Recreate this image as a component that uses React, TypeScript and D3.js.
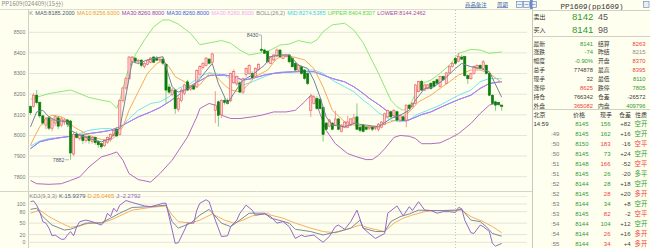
import React from "react";
import * as d3 from "d3";

type P = [number, number];

// ---------- candles (15 min bars) ----------
const opens = [8140,8140,8195,8160,8095,8050,8085,8035,8060,8085,8050,8065,8075,8070,7910,8005,7985,8000,7975,7995,7970,7990,7970,7960,7950,7965,7980,8000,8030,8005,8170,8230,8275,8360,8375,8360,8365,8335,8345,8355,8380,8375,8365,8370,8345,8235,8200,8220,8125,8170,8205,8260,8225,8240,8235,8295,8330,8340,8370,8355,8122,8163,8100,8170,8170,8170,8255,8250,8255,8210,8295,8300,8300,8285,8320,8418,8414,8406,8349,8366,8385,8414,8374,8382,8390,8374,8349,8317,8333,8317,8300,8122,8155,8180,8175,8135,8060,8045,8060,8050,8080,8020,8040,8040,8050,8060,8090,8040,8050,8040,8035,8040,8035,8030,8040,8055,8090,8115,8098,8115,8074,8090,8074,8147,8139,8155,8212,8262,8220,8228,8253,8262,8270,8237,8286,8253,8303,8335,8374,8360,8380,8382,8290,8275,8300,8325,8340,8325,8340,8300,8195,8163,8160,8147];
const highs = [8145,8205,8220,8165,8100,8090,8095,8085,8100,8095,8090,8085,8080,8075,8015,8020,8010,8010,8000,8000,7995,7995,7975,7965,7980,7995,8010,8030,8040,8175,8235,8285,8385,8385,8380,8370,8370,8355,8370,8380,8385,8385,8380,8380,8350,8250,8230,8225,8190,8230,8250,8270,8245,8250,8320,8340,8355,8380,8375,8402,8215,8170,8175,8180,8180,8305,8320,8290,8265,8280,8330,8345,8310,8330,8350,8430,8420,8410,8385,8395,8422,8418,8395,8395,8395,8380,8355,8345,8338,8320,8305,8203,8195,8190,8185,8140,8065,8080,8065,8120,8085,8055,8070,8095,8085,8105,8155,8050,8055,8045,8045,8045,8045,8060,8070,8110,8125,8120,8128,8120,8102,8095,8150,8152,8160,8250,8265,8270,8250,8250,8258,8266,8275,8290,8290,8308,8340,8355,8380,8400,8390,8386,8295,8305,8340,8345,8345,8365,8345,8305,8200,8168,8163,8150];
const lows = [8100,8135,8150,8085,8050,8030,8025,8020,8045,8030,8040,8050,8040,7882,7900,7985,7975,7960,7965,7960,7960,7955,7940,7935,7945,7960,7970,7995,7990,8000,8160,8220,8270,8340,8350,8345,8330,8325,8340,8350,8350,8360,8355,8340,8155,8200,8190,8105,8115,8160,8195,8215,8215,8220,8230,8290,8320,8335,8345,8350,8060,8042,8085,8150,8150,8160,8250,8240,8205,8200,8285,8295,8270,8280,8315,8405,8395,8350,8345,8360,8380,8375,8370,8378,8350,8330,8310,8312,8295,8270,8244,8090,8150,8125,8125,7970,8025,8040,8025,8045,8025,8015,8035,8035,8045,8055,8025,8015,8015,8025,8025,8020,8025,8020,8035,8050,8085,8085,8092,8070,8068,8070,8040,8128,8135,8150,8208,8215,8215,8222,8222,8232,8248,8232,8265,8248,8298,8330,8345,8355,8365,8285,8250,8270,8295,8320,8320,8320,8295,8190,8150,8120,8145,8120];
const closes = [8110,8195,8160,8095,8060,8080,8035,8075,8090,8045,8080,8075,8055,7915,8005,7990,8000,7975,7995,7975,7990,7965,7955,7945,7975,7990,8005,8025,7998,8170,8230,8275,8380,8380,8360,8365,8340,8350,8365,8375,8355,8365,8370,8350,8220,8210,8220,8130,8180,8220,8245,8220,8240,8225,8315,8335,8350,8375,8350,8395,8147,8098,8170,8160,8155,8300,8310,8285,8210,8275,8325,8340,8280,8325,8345,8412,8398,8357,8382,8390,8414,8382,8390,8390,8357,8333,8317,8341,8300,8276,8252,8187,8187,8130,8130,8005,8030,8075,8030,8080,8030,8050,8065,8065,8080,8085,8030,8025,8020,8030,8040,8030,8038,8055,8065,8105,8122,8090,8122,8074,8098,8074,8147,8131,8155,8245,8262,8220,8245,8245,8228,8237,8253,8286,8270,8303,8335,8350,8350,8382,8370,8290,8275,8300,8335,8340,8325,8357,8300,8195,8155,8147,8150,8141];

// ---------- indicator lines, read as [bar index, value] ----------
const ma5: P[] = [[0,8042],[2,8114],[4,8122],[6,8090],[8,8074],[12,8066],[13,8025],[16,8001],[19,7985],[23,7969],[26,7985],[28,8025],[29,8033],[33,8357],[35,8349],[38,8366],[43,8382],[44,8333],[46,8236],[48,8210],[51,8225],[53,8244],[55,8275],[59,8349],[61,8252],[64,8155],[66,8203],[69,8268],[72,8293],[76,8341],[78,8382],[81,8390],[84,8390],[87,8341],[90,8325],[92,8268],[94,8187],[96,8090],[98,8050],[102,8042],[105,8058],[109,8050],[113,8042],[117,8082],[120,8098],[123,8122],[125,8171],[128,8228],[131,8236],[134,8268],[138,8325],[140,8349],[143,8333],[146,8325],[149,8309],[153,8185]];
const ma10: P[] = [[0,7952],[1,7985],[3,8042],[5,8082],[7,8098],[10,8090],[12,8074],[14,8042],[16,8025],[19,8001],[23,7980],[26,7977],[28,8001],[30,8042],[32,8122],[35,8212],[38,8301],[41,8349],[43,8362],[45,8333],[47,8285],[50,8260],[52,8240],[55,8245],[58,8301],[60,8290],[63,8244],[65,8220],[68,8212],[70,8236],[73,8285],[77,8317],[80,8374],[83,8385],[85,8382],[89,8366],[92,8325],[95,8236],[98,8122],[102,8066],[105,8050],[108,8045],[110,8042],[113,8046],[117,8066],[120,8082],[123,8114],[126,8163],[130,8195],[133,8228],[136,8260],[139,8293],[143,8317],[146,8317],[149,8301],[153,8257]];
const ma30: P[] = [[0,7936],[3,7969],[6,7980],[10,7990],[13,7996],[16,8001],[19,8009],[23,8017],[26,8025],[29,8042],[32,8066],[35,8090],[39,8114],[42,8135],[45,8163],[48,8195],[52,8240],[55,8265],[58,8290],[63,8293],[66,8285],[69,8268],[72,8276],[76,8293],[79,8301],[85,8309],[92,8309],[95,8293],[98,8276],[102,8260],[105,8236],[107,8215],[110,8180],[113,8150],[117,8105],[120,8074],[122,8071],[124,8082],[127,8101],[130,8114],[133,8135],[136,8155],[139,8174],[143,8195],[146,8228],[149,8252],[153,8261]];
const bollMid: P[] = [[0,7948],[3,7973],[6,7985],[12,7993],[16,8009],[19,8025],[23,8033],[26,8033],[28,8025],[29,8033],[32,8082],[35,8122],[39,8155],[42,8163],[45,8187],[48,8228],[52,8252],[55,8285],[58,8304],[63,8293],[66,8260],[69,8244],[72,8260],[76,8285],[79,8301],[82,8309],[85,8305],[89,8317],[92,8317],[95,8301],[98,8268],[102,8236],[105,8212],[108,8171],[110,8150],[113,8110],[117,8074],[120,8066],[123,8074],[125,8098],[129,8122],[133,8147],[136,8171],[139,8195],[143,8220],[146,8260],[149,8276],[153,8275]];
const bollUpper: P[] = [[0,8176],[6,8203],[13,8220],[16,8203],[19,8184],[23,8171],[26,8163],[28,8131],[29,8171],[31,8285],[33,8366],[37,8463],[40,8527],[43,8560],[45,8560],[48,8540],[52,8495],[55,8440],[62,8460],[65,8447],[68,8414],[71,8390],[74,8398],[78,8414],[81,8438],[84,8443],[87,8460],[91,8447],[93,8463],[95,8503],[98,8536],[102,8544],[105,8511],[108,8450],[110,8390],[113,8301],[117,8171],[119,8139],[121,8122],[123,8139],[125,8203],[127,8252],[130,8268],[133,8301],[136,8341],[139,8398],[143,8417],[146,8414],[149,8398],[153,8405]];
const bollLower: P[] = [[0,7782],[2,7766],[6,7763],[10,7766],[13,7782],[16,7799],[19,7847],[23,7896],[26,7909],[28,7920],[30,7880],[32,7815],[35,7786],[39,7774],[42,7815],[46,7880],[51,7993],[54,8090],[55,8130],[57,8147],[58,8155],[60,8147],[62,8098],[65,8082],[68,8082],[72,8090],[75,8098],[79,8114],[83,8114],[86,8122],[89,8163],[91,8195],[92,8187],[94,8106],[96,8025],[99,7960],[103,7912],[106,7896],[109,7883],[111,7883],[113,7904],[115,7935],[118,7990],[120,8000],[123,7996],[125,7985],[127,7960],[130,7960],[133,7964],[136,7985],[139,8009],[143,8058],[146,8106],[149,8147],[151,8155],[153,8144]];

const kLine: P[] = [[0,86],[2,89],[4,67],[7,45],[11,32],[13,34],[14,37],[18,50],[23,51],[26,63],[29,76],[33,91],[39,93],[44,97],[46,54],[48,37],[52,50],[55,71],[58,86],[62,50],[65,41],[68,58],[71,76],[76,76],[78,63],[81,57],[84,50],[86,34],[91,28],[95,19],[97,23],[100,28],[104,37],[107,58],[108,37],[112,28],[115,28],[117,54],[120,67],[123,74],[126,84],[130,83],[134,83],[138,84],[140,86],[143,58],[146,54],[148,41],[150,23],[153,16]];
const dLine: P[] = [[0,76],[3,84],[6,67],[10,50],[13,39],[16,43],[19,50],[23,50],[26,58],[29,69],[33,84],[39,91],[44,95],[46,71],[48,54],[52,50],[55,58],[59,74],[63,58],[66,50],[69,58],[72,69],[77,76],[78,71],[82,63],[86,50],[91,37],[95,28],[99,25],[104,37],[107,45],[110,37],[115,28],[118,50],[121,63],[124,71],[128,80],[132,83],[136,83],[140,84],[143,67],[147,54],[150,41],[153,25]];
const jLine: P[] = [[0,106],[1,108],[2,97],[3,80],[4,54],[5,50],[6,37],[7,17],[8,19],[10,8],[11,8],[12,19],[13,28],[14,17],[15,41],[16,54],[18,58],[20,54],[23,45],[24,54],[25,76],[26,67],[27,89],[28,80],[29,97],[31,109],[33,104],[37,95],[39,93],[41,97],[43,102],[44,102],[45,67],[46,32],[47,-3],[48,-1],[50,32],[51,50],[53,50],[54,84],[55,102],[57,111],[58,106],[60,58],[62,15],[64,17],[65,41],[67,58],[68,76],[70,97],[72,84],[73,71],[76,74],[77,71],[78,67],[80,50],[82,54],[84,41],[86,10],[88,19],[89,15],[92,19],[94,6],[95,0],[97,15],[99,41],[100,45],[102,34],[104,54],[106,84],[108,37],[110,23],[112,10],[115,23],[116,76],[119,95],[121,69],[123,93],[124,83],[126,106],[128,84],[130,83],[132,76],[134,80],[136,80],[138,78],[139,91],[140,88],[141,58],[143,25],[144,23],[146,45],[147,41],[149,28],[150,-3],[151,-10],[153,-3]];

const priceTicks = [8500, 8400, 8300, 8200, 8100, 8000, 7900, 7800];
const kdjTicks = [100, 80, 50, 20, 0];
const sessionBreak = 138;
const lowMark = { index: 13, value: 7882 };
const highMark = { index: 75, value: 8430 };

const titleText = "PP1609(024409)(15分)";
const legendTexts = ["K", "MA5:8185.2000", "MA10:8256.6000", "MA30:8260.8000", "MA30:8260.8000", "MA30:8260.8000", "BOLL(26,2)", "MID:8274.5385", "UPPER:8404.8307", "LOWER:8144.2462"];
const legendColors = ["#8a8a8a", "#4a5c6e", "#f09a30", "#9a40b0", "#3a5ae0", "#f4a8f0", "#8a8a8a", "#38d0e0", "#58d848", "#a848a8"];
const kdjTexts = ["KDJ(9,3,3)", "K:15.9379", "D:25.0465", "J:-2.2792"];
const kdjColors = ["#8a8a8a", "#4a5c6e", "#f09a30", "#9060c0"];

// ---------- quote panel ----------
const quoteTitle = "PP1609(pp1609)";
const bookLabels = ["卖出", "买入"];
const bookPrices = ["8142", "8141"];
const bookSizes = ["45", "98"];
const leftLabels = ["最新", "涨跌", "幅度", "总手", "现手", "涨停", "持仓", "外盘"];
const leftValues = ["8141", "-74", "-0.90%", "774878", "32", "8625", "766342", "365082"];
const leftTones = ["g", "g", "g", "k", "k", "r", "k", "r"];
const rightLabels = ["结算", "昨结", "开盘", "最高", "最低", "跌停", "仓差", "内盘"];
const rightValues = ["8263", "8215", "8370", "8395", "8110", "7805", "-26572", "409796"];
const rightTones = ["r", "s", "r", "r", "g", "g", "k", "g"];
const tradeHeader = ["北京", "价格", "现手", "仓差", "性质"];
const tradeTimes = ["14:59", ":49", ":50", ":50", ":51", ":51", ":52", ":52", ":53", ":53", ":54", ":54", ":55"];
const tradePrices = ["8145", "8145", "8150", "8145", "8148", "8145", "8144", "8145", "8144", "8145", "8144", "8144", "8144"];
const tradeVols = ["156", "162", "183", "73", "166", "26", "28", "28", "34", "82", "104", "26", "34"];
const tradeVolTones = ["g", "g", "r", "g", "r", "g", "g", "r", "g", "r", "g", "r", "r"];
const tradeOi = ["+82", "+16", "-16", "+24", "-52", "-20", "+18", "+20", "+8", "-2", "+12", "+16", "+4"];
const tradeKinds = ["空开", "空开", "空平", "空开", "空平", "多平", "空开", "多开", "空开", "空平", "空开", "多开", "多开"];
const headerLinks = ["商品备注", "周期"];

const TONE: Record<string, string> = { g: "#2f9a2f", r: "#f03c3c", k: "#404040", s: "#8a8a8a" };
const kindTone = (k: string) => (k === "空平" || k === "多开" ? TONE.r : TONE.g);

const SANS = "'Liberation Sans', Arial, sans-serif";
const CJK = "'Noto Sans CJK SC', 'Liberation Sans', sans-serif";

export default function App() {
  const n = closes.length;
  const x = d3.scaleLinear().domain([0, n - 1]).range([30.5, 501.7]);
  const y = d3.scaleLinear().domain([7800, 8500]).range([176.7, 32.3]);
  const ky = d3.scaleLinear().domain([0, 100]).range([242.3, 204]);
  const pl = d3.line<P>().x((d) => x(d[0])).y((d) => y(d[1]));
  const kl = d3.line<P>().x((d) => x(d[0])).y((d) => ky(d[1]));
  const plotL = 28.5, plotR = 527, panelX = 532.5;
  const bodyW = 2.2;

  const cjkText = (t: string, px: number, py: number, size: number, fill: string, anchor = "start", key?: any) => (
    <text key={key} x={px} y={py} fontSize={size} fill={fill} fontFamily={CJK} textAnchor={anchor}>{t}</text>
  );

  return (
    <svg width={650} height={248} style={{ position: "absolute", left: 0, top: 0, display: "block", background: "#fffff0" }}>
      <defs>
        <clipPath id="mainClip"><rect x={plotL} y={10} width={panelX - plotL} height={181} /></clipPath>
        <clipPath id="kdjClip"><rect x={plotL} y={192} width={panelX - plotL} height={56} /></clipPath>
      </defs>
      <rect x={0} y={0} width={650} height={248} fill="#fffff0" />

      {/* frame lines */}
      <line x1={0} x2={panelX} y1={9.5} y2={9.5} stroke="#dcdcd0" />
      <line x1={plotL} x2={plotL} y1={9.5} y2={248} stroke="#cfcfc4" />
      <line x1={0} x2={panelX} y1={191.5} y2={191.5} stroke="#d4d4c8" />
      <line x1={panelX} x2={panelX} y1={0} y2={248} stroke="#c8c8bc" />

      {/* grid main */}
      {priceTicks.map((t) => (
        <g key={t}>
          <line x1={plotL} x2={plotR} y1={y(t)} y2={y(t)} stroke="#e4e4da" />
          <text x={25.5} y={y(t) + 1.9} fontSize={5.3} fill="#7a7a7a" textAnchor="end" fontFamily={SANS}>{t}</text>
        </g>
      ))}
      {/* grid kdj */}
      <line x1={plotL} x2={plotR} y1={196.7} y2={196.7} stroke="#ececE2" />
      {kdjTicks.map((t) => (
        <g key={"k" + t}>
          <line x1={plotL} x2={plotR} y1={ky(t)} y2={ky(t)} stroke="#e4e4da" />
          <text x={25.5} y={ky(t) + 1.9} fontSize={5.3} fill="#7a7a7a" textAnchor="end" fontFamily={SANS}>{t}</text>
        </g>
      ))}
      <line x1={x(sessionBreak)} x2={x(sessionBreak)} y1={10} y2={248} stroke="#c4c4bc" strokeDasharray="1,2" />

      {/* title */}
      <text x={1.5} y={6.4} fontSize={6} fill="#8c8c8c" fontFamily={CJK}>{titleText}</text>
      <text x={29.3} y={15.4} fontSize={5.6} fontFamily={SANS}>
        {legendTexts.map((t, i) => (
          <tspan key={i} fill={legendColors[i]} dx={i === 0 ? 0 : 2.2}>{t}</tspan>
        ))}
      </text>
      {headerLinks.map((t, i) => (
        <text key={t} x={i === 0 ? 465 : 497} y={6.5} fontSize={5.4} fill="#3a64a8" fontFamily={CJK} textDecoration="underline">{t}</text>
      ))}
      {[0, 1, 2].map((i) => (
        <g key={"ic" + i}>
          <rect x={516.5 + i * 7} y={1.5} width={6} height={6} fill="#eef2fa" stroke="#5a7ab8" strokeWidth={0.6} />
          <line x1={517.5 + i * 7} x2={521.5 + i * 7} y1={4.5} y2={4.5} stroke="#5a7ab8" strokeWidth={0.6} />
        </g>
      ))}

      {/* main panel */}
      <g clipPath="url(#mainClip)" fill="none" strokeWidth={1}>
        <path d={pl(bollUpper) || ""} stroke="#8ee878" />
        <path d={pl(bollLower) || ""} stroke="#b46ac0" />
        <path d={pl(bollMid) || ""} stroke="#70e6f0" />
        <path d={pl(ma30) || ""} stroke="#6a80f0" />
        <path d={pl(ma30) || ""} stroke="#b67ef0" />
        <path d={pl(ma10) || ""} stroke="#f6aa58" />
      </g>
      <g>
        {closes.map((c, i) => {
          const o = opens[i];
          const up = c >= o;
          const cx = x(i);
          const top = y(Math.max(o, c));
          const bot = y(Math.min(o, c));
          return (
            <g key={i}>
              <line x1={cx} x2={cx} y1={y(highs[i])} y2={y(lows[i])} stroke={up ? "#f08c8c" : "#78c478"} strokeWidth={0.9} />
              <rect x={cx - bodyW / 2} y={top} width={bodyW} height={Math.max(0.8, bot - top)}
                fill={up ? "#fcd2d2" : "#0c7c0c"} stroke={up ? "#ee5858" : "#0c7c0c"} strokeWidth={0.6} />
            </g>
          );
        })}
      </g>
      <g clipPath="url(#mainClip)" fill="none">
        <path d={pl(ma5) || ""} stroke="#748494" strokeWidth={1} />
      </g>
      {/* extreme marks */}
      <text x={64.5} y={y(lowMark.value) + 1.9} fontSize={5.3} fill="#4a5c6e" textAnchor="end" fontFamily={SANS}>{lowMark.value}</text>
      <line x1={65} x2={x(lowMark.index) - 1.5} y1={y(lowMark.value)} y2={y(lowMark.value)} stroke="#8a9aa8" strokeWidth={0.7} />
      <text x={258.5} y={37} fontSize={5.3} fill="#4a5c6e" textAnchor="end" fontFamily={SANS}>{highMark.value}</text>
      <polyline points={`259,35 ${x(highMark.index)},35 ${x(highMark.index)},${y(highMark.value)}`} fill="none" stroke="#8a9aa8" strokeWidth={0.7} />

      {/* kdj panel */}
      <text x={29.3} y={197.8} fontSize={5.8} fontFamily={SANS}>
        {kdjTexts.map((t, i) => (
          <tspan key={i} fill={kdjColors[i]} dx={i === 0 ? 0 : 2}>{t}</tspan>
        ))}
      </text>
      <g clipPath="url(#kdjClip)" fill="none" strokeWidth={1}>
        <path d={kl(dLine) || ""} stroke="#f6b060" />
        <path d={kl(kLine) || ""} stroke="#7a8a98" />
        <path d={kl(jLine) || ""} stroke="#9468c8" />
      </g>

      {/* quote panel */}
      <rect x={530} y={0} width={2.5} height={9} fill="#6a8ac8" />
      <text x={592} y={8.6} fontSize={7.5} fill="#333" textAnchor="middle" fontFamily="'Liberation Mono', monospace">{quoteTitle}</text>
      <rect x={643.5} y={1.5} width={5.5} height={6} fill="#e8eef8" stroke="#6a80a8" strokeWidth={0.6} />
      <line x1={panelX} x2={650} y1={10.5} y2={10.5} stroke="#d0d0c4" />
      {bookLabels.map((t, i) => (
        <g key={t}>
          {cjkText(t, 533.5, 19.2 + i * 12.7, 6, "#333")}
          <text x={572} y={20.3 + i * 12.7} fontSize={9.6} fill="#2f9a2f" fontFamily={SANS}>{bookPrices[i]}</text>
          <text x={598} y={20.3 + i * 12.7} fontSize={9} fill="#555" fontFamily={SANS}>{bookSizes[i]}</text>
        </g>
      ))}
      <line x1={panelX} x2={650} y1={36.5} y2={36.5} stroke="#d0d0c4" />
      {leftLabels.map((t, i) => {
        const by = 45.6 + i * 8.85;
        return (
          <g key={t}>
            {cjkText(t, 533.5, by, 5.8, "#333")}
            <text x={593} y={by} fontSize={5.8} fill={TONE[leftTones[i]]} textAnchor="end" fontFamily={SANS}>{leftValues[i]}</text>
            {cjkText(rightLabels[i], 598, by, 5.8, "#333")}
            <text x={645.5} y={by} fontSize={5.8} fill={TONE[rightTones[i]]} textAnchor="end" fontFamily={SANS}>{rightValues[i]}</text>
          </g>
        );
      })}
      <line x1={panelX} x2={650} y1={109.5} y2={109.5} stroke="#d0d0c4" />
      {tradeHeader.map((t, i) => cjkText(t, [533.5, 573, 600, 619, 635][i], 117.3, 6, "#333", "start", "h" + i))}
      {tradeTimes.map((t, i) => {
        const by = 126.2 + i * 9.95;
        return (
          <g key={"t" + i}>
            <text x={i === 0 ? 533.5 : 551} y={by} fontSize={6} fill={i === 0 ? "#333" : "#777"} fontFamily={SANS}>{t}</text>
            <text x={588.5} y={by} fontSize={6} fill={TONE.g} textAnchor="end" fontFamily={SANS}>{tradePrices[i]}</text>
            <text x={610.5} y={by} fontSize={6} fill={TONE[tradeVolTones[i]]} textAnchor="end" fontFamily={SANS}>{tradeVols[i]}</text>
            <text x={630.5} y={by} fontSize={6} fill="#404040" textAnchor="end" fontFamily={SANS}>{tradeOi[i]}</text>
            {cjkText(tradeKinds[i], 634.5, by, 6.4, kindTone(tradeKinds[i]))}
          </g>
        );
      })}
    </svg>
  );
}
